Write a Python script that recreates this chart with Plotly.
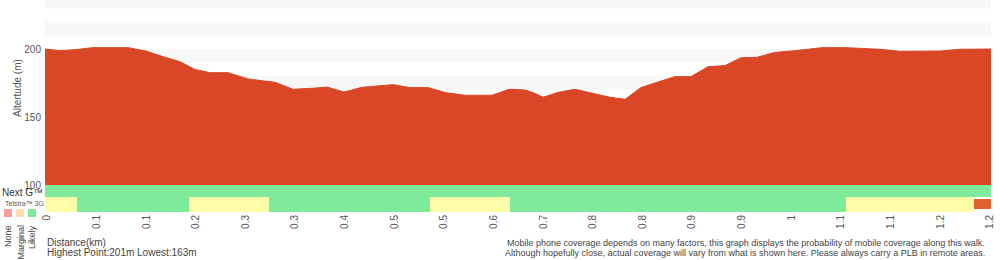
import plotly.graph_objects as go

# ---------------- data ----------------
distance_km = [0, 0.0197, 0.0393, 0.0629, 0.1088, 0.1311, 0.1573, 0.1770, 0.1966, 0.2163,
               0.2399, 0.2661, 0.3015, 0.3251, 0.3500, 0.3696, 0.3919, 0.4155, 0.4561, 0.4784,
               0.5020, 0.5256, 0.5505, 0.5859, 0.6082, 0.6292, 0.6423, 0.6528, 0.6724, 0.6947,
               0.7144, 0.7406, 0.7603, 0.7812, 0.8022, 0.8258, 0.8468, 0.8690, 0.8913, 0.9123,
               0.9333, 0.9569, 0.9831, 1.0185, 1.0486, 1.0945, 1.1207, 1.1732, 1.1994, 1.2400]
altitude_m = [200, 198.8, 199.5, 201, 201, 198.7, 193.9, 190.7, 185, 182.6,
              182.6, 178, 175.5, 170.4, 171.1, 172, 168.4, 171.8, 173.8, 171.6,
              171.6, 167.9, 166, 166, 170.4, 169.9, 167.4, 164.5, 168.1, 170.4,
              167.9, 164.5, 163, 171.6, 175.5, 179.7, 179.7, 187, 187.8, 193.6,
              193.9, 197.5, 198.8, 201, 201, 199.8, 198.3, 198.5, 199.8, 200]

total_km = 1.24
x_tick_labels = ["0", "0.1", "0.1", "0.2", "0.3", "0.3", "0.4", "0.5", "0.5", "0.6",
                 "0.7", "0.8", "0.8", "0.9", "0.9", "1", "1.1", "1.1", "1.2", "1.2"]
y_tick_values = [100, 150, 200]

# coverage segments: start km, end km, level
nextg_start = [0]
nextg_end = [1.24]
nextg_level = ["Likely"]

g3_start = [0, 0.0419, 0.1888, 0.2936, 0.5047, 0.6095, 1.0499, 1.2177]
g3_end = [0.0419, 0.1888, 0.2936, 0.5047, 0.6095, 1.0499, 1.2177, 1.24]
g3_level = ["Marginal", "Likely", "Marginal", "Likely", "Marginal", "Likely", "Marginal", "None"]

legend_levels = ["None", "Marginal", "Likely"]

# ---------------- styles ----------------
W, H = 1000, 260
X0, X1 = 45, 991           # plot left/right px
Y_TOP, Y_100, Y_BOT = 0, 185, 212
PROFILE = "#d94727"
LEVEL_COLORS = {"Likely": "#7deb9a", "Marginal": "#fffda8", "None": "#e0622e"}
LEGEND_COLORS = {"None": "#ff9c9c", "Marginal": "#ffdcaa", "Likely": "#7deb9a"}
TXT = "#555555"
FONT = "Liberation Sans, Arial, sans-serif"

def px_x(p):
    return p / W

def px_y(p):
    return 1 - p / H

fig = go.Figure()

# elevation profile
fig.add_trace(go.Scatter(
    x=distance_km, y=altitude_m, mode="lines", fill="tozeroy",
    fillcolor=PROFILE, line=dict(color=PROFILE, width=1),
    hoverinfo="skip", showlegend=False, xaxis="x", yaxis="y"))

# coverage rows (yaxis2 in px-like units: 0 bottom .. 27 top)
def add_row(starts, ends, levels, center, thick):
    for s, e, lv in zip(starts, ends, levels):
        w = thick if lv != "None" else 10
        fig.add_trace(go.Bar(
            x=[e - s], base=[s], y=[center], orientation="h", width=[w],
            marker=dict(color=LEVEL_COLORS[lv], line=dict(width=0)),
            hoverinfo="skip", showlegend=False, xaxis="x", yaxis="y2"))

add_row(nextg_start, nextg_end, nextg_level, 21, 12)
add_row(g3_start, g3_end, g3_level, 7.6, 15)

# stripes
shapes = []
for lo in range(110, 240, 20):
    shapes.append(dict(type="rect", xref="x", yref="y", x0=0, x1=total_km,
                       y0=lo + 60, y1=lo + 70, fillcolor="#f7f7f7",
                       line=dict(width=0), layer="below"))
# legend squares
for i, lv in enumerate(legend_levels):
    cx = 8 + 12 * i
    shapes.append(dict(type="rect", xref="paper", yref="paper",
                       x0=px_x(cx - 4), x1=px_x(cx + 4), y0=px_y(217), y1=px_y(209),
                       fillcolor=LEGEND_COLORS[lv], line=dict(width=0)))

n = len(x_tick_labels)
km_per_px = total_km / (X1 - X0)
tick_vals = [(2 + i * (943 / (n - 1))) * km_per_px for i in range(n)]

annotations = [
    dict(text="Altertude (m)", x=px_x(17), y=px_y(88), xref="paper", yref="paper",
         xanchor="center", yanchor="middle",
         textangle=-90, showarrow=False, font=dict(size=10, color=TXT, family=FONT)),
    dict(text="Next G\u2122", x=px_x(0), y=px_y(192.5), xref="paper", yref="paper",
         xanchor="left", yanchor="middle", showarrow=False,
         font=dict(size=10, color="#333333", family=FONT)),
    dict(text="Telstra\u2122 3G", x=px_x(3), y=px_y(203.5), xref="paper", yref="paper",
         xanchor="left", yanchor="middle", showarrow=False,
         font=dict(size=7, color=TXT, family=FONT)),
    dict(text="Distance(km)", x=px_x(45), y=px_y(242), xref="paper", yref="paper",
         xanchor="left", yanchor="middle", showarrow=False,
         font=dict(size=10, color="#444444", family=FONT)),
    dict(text=f"Highest Point:{round(max(altitude_m))}m Lowest:{round(min(altitude_m))}m",
         x=px_x(45), y=px_y(252), xref="paper", yref="paper",
         xanchor="left", yanchor="middle", showarrow=False,
         font=dict(size=10, color="#444444", family=FONT)),
    dict(text="Mobile phone coverage depends on many factors, this graph displays the probability of mobile coverage along this walk.",
         x=px_x(987), y=px_y(243), xref="paper", yref="paper",
         xanchor="right", yanchor="middle", showarrow=False,
         font=dict(size=9, color="#444444", family=FONT)),
    dict(text="Although hopefully close, actual coverage will vary from what is shown here. Please always carry a PLB in remote areas.",
         x=px_x(987), y=px_y(253), xref="paper", yref="paper",
         xanchor="right", yanchor="middle", showarrow=False,
         font=dict(size=9, color="#444444", family=FONT)),
]
for i, lv in enumerate(legend_levels):
    annotations.append(dict(text=lv, x=px_x(8 + 12 * i), y=px_y(223), xref="paper", yref="paper",
                            xanchor="center", yanchor="top", textangle=-90, showarrow=False,
                            font=dict(size=9, color="#444444", family=FONT)))

fig.update_layout(
    width=W, height=H, margin=dict(l=0, r=0, t=0, b=0),
    paper_bgcolor="white", plot_bgcolor="white",
    barmode="overlay", bargap=0,
    font=dict(family=FONT, color=TXT, size=10),
    xaxis=dict(domain=[px_x(X0), px_x(X1)], range=[0, total_km], anchor="y2",
               tickmode="array", tickvals=tick_vals, ticktext=x_tick_labels,
               tickangle=-90, showgrid=False, zeroline=False, showline=False,
               ticks="", tickfont=dict(size=10, color="#555555"), automargin=False),
    yaxis=dict(domain=[px_y(Y_100), px_y(Y_TOP)],
               range=[100, 100 + (Y_100 - Y_TOP) / 1.36], anchor="x",
               tickmode="array", tickvals=y_tick_values, showgrid=False, zeroline=False,
               showline=False, ticks="", ticklabelstandoff=3,
               tickfont=dict(size=10, color="#555555"), automargin=False),
    yaxis2=dict(domain=[px_y(Y_BOT), px_y(Y_100)], range=[0, Y_BOT - Y_100], anchor="x",
                showticklabels=False, showgrid=False, zeroline=False, showline=False,
                ticks="", automargin=False),
    shapes=shapes, annotations=annotations,
)

fig.write_html("out.html")
